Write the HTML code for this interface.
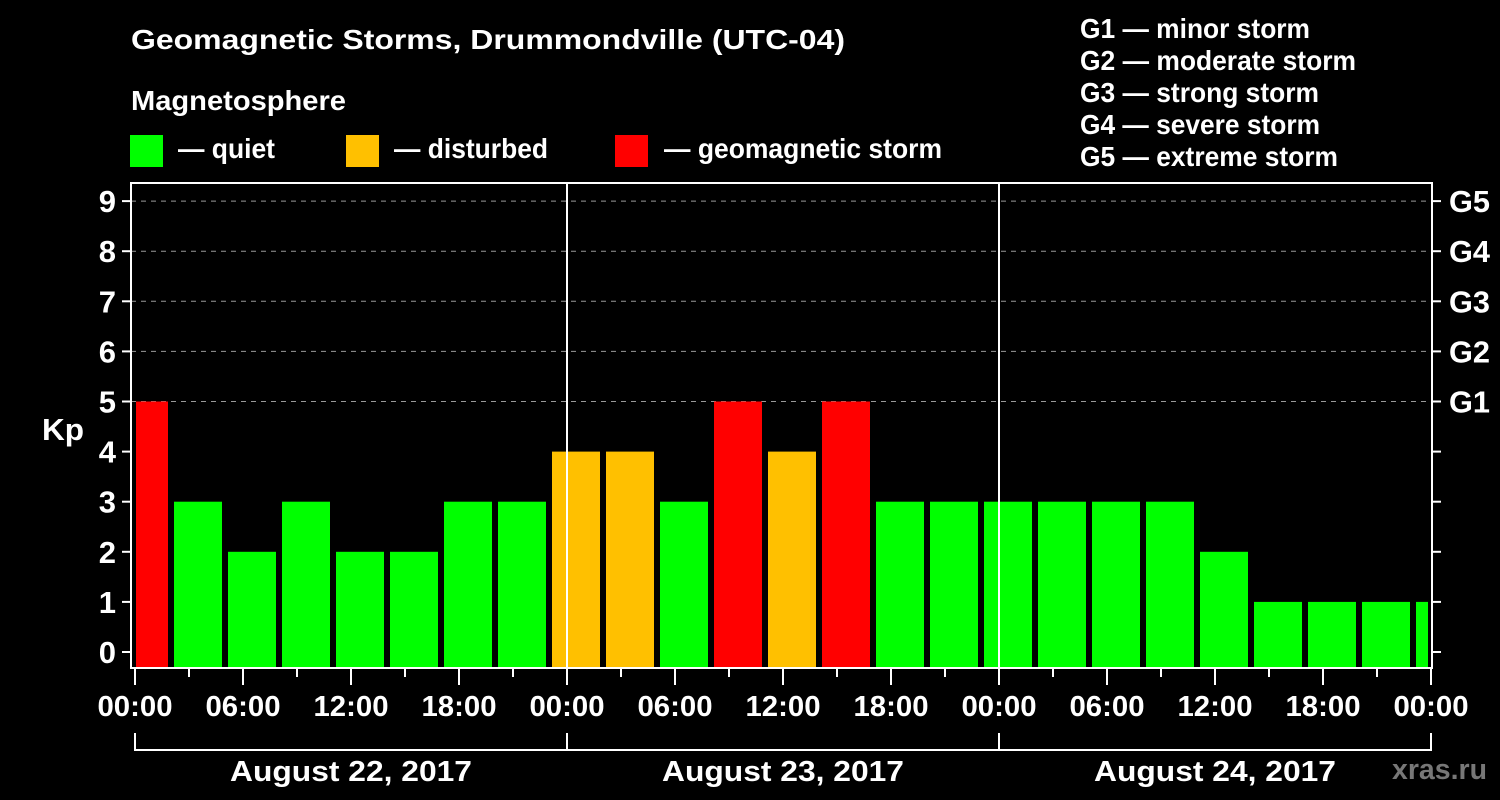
<!DOCTYPE html>
<html><head><meta charset="utf-8"><style>
html,body{margin:0;padding:0;background:#000;width:1500px;height:800px;overflow:hidden}
svg{display:block;font-family:"Liberation Sans",sans-serif;font-weight:bold}
</style></head><body>
<svg id="c" width="1500" height="800">
<rect width="1500" height="800" fill="#000"/>
<text x="131" y="49" font-size="28" fill="#fff" textLength="714" lengthAdjust="spacingAndGlyphs">Geomagnetic Storms, Drummondville (UTC-04)</text>
<text x="131" y="110" font-size="28" fill="#fff" textLength="215" lengthAdjust="spacingAndGlyphs">Magnetosphere</text>
<g><rect x="130" y="135" width="33" height="32" fill="#00ff00"/><text x="178" y="158" font-size="28" fill="#fff" textLength="97" lengthAdjust="spacingAndGlyphs">— quiet</text></g>
<g><rect x="346" y="135" width="33" height="32" fill="#ffc000"/><text x="394" y="158" font-size="28" fill="#fff" textLength="154" lengthAdjust="spacingAndGlyphs">— disturbed</text></g>
<g><rect x="615" y="135" width="33" height="32" fill="#ff0000"/><text x="664" y="158" font-size="28" fill="#fff" textLength="278" lengthAdjust="spacingAndGlyphs">— geomagnetic storm</text></g>
<g font-size="28" fill="#fff" lengthAdjust="spacingAndGlyphs">
<text x="1080" y="38" textLength="230" lengthAdjust="spacingAndGlyphs">G1 — minor storm</text>
<text x="1080" y="70" textLength="276" lengthAdjust="spacingAndGlyphs">G2 — moderate storm</text>
<text x="1080" y="102" textLength="239" lengthAdjust="spacingAndGlyphs">G3 — strong storm</text>
<text x="1080" y="134" textLength="240" lengthAdjust="spacingAndGlyphs">G4 — severe storm</text>
<text x="1080" y="166" textLength="258" lengthAdjust="spacingAndGlyphs">G5 — extreme storm</text>
</g>
<text x="42" y="440" font-size="31" fill="#fff" textLength="42" lengthAdjust="spacingAndGlyphs">Kp</text>
<text x="1392" y="779" font-size="29" fill="#777" textLength="95" lengthAdjust="spacingAndGlyphs">xras.ru</text>
<g id="plot"></g>
</svg>
<script>
const kpValues=[5,3,2,3,2,2,3,3,4,4,3,5,4,5,3,3,3,3,3,3,2,1,1,1,1];
const yTicks=[0,1,2,3,4,5,6,7,8,9];
const gLabels=["G1","G2","G3","G4","G5"];
const gLevels=[5,6,7,8,9];
const timeLabels=["00:00","06:00","12:00","18:00","00:00","06:00","12:00","18:00","00:00","06:00","12:00","18:00","00:00"];
const dayLabels=["August 22, 2017","August 23, 2017","August 24, 2017"];
const NS="http://www.w3.org/2000/svg";
const L=131,R=1432,T=183,B=668,X0=135;
const y=v=>652-v*50.1;
const xh=h=>X0+h*18;
const g=document.getElementById('plot');
function mk(t,a,p){const e=document.createElementNS(NS,t);for(const k in a)e.setAttribute(k,a[k]);(p||g).appendChild(e);return e;}
function col(v){return v>=5?"#ff0000":v>=4?"#ffc000":"#00ff00";}
gLevels.forEach(v=>{const e=mk('line',{x1:L,x2:R,y1:y(v),y2:y(v),stroke:"#999","stroke-dasharray":"5,5","stroke-width":1});

});
kpValues.forEach((v,i)=>{const end=xh(33/18)+54*i;let x1=Math.max(136,end-48),x2=Math.min(1428,end);
const r=mk('rect',{x:x1,y:y(v),width:x2-x1,height:B-1-y(v),fill:col(v)});

});
[1,2].forEach(d=>{const e=mk('line',{x1:xh(24*d),x2:xh(24*d),y1:T,y2:B,stroke:"#fff","stroke-width":2});

});
const f=mk('rect',{x:L,y:T,width:R-L,height:B-T,fill:"none",stroke:"#fff","stroke-width":2});


yTicks.forEach(v=>{mk('line',{x1:122,x2:L,y1:y(v),y2:y(v),stroke:"#fff","stroke-width":2});
mk('line',{x1:R,x2:1441,y1:y(v),y2:y(v),stroke:"#fff","stroke-width":2});
const t=mk('text',{x:116,y:y(v)+11,"font-size":31,fill:"#fff","text-anchor":"end"});t.textContent=v;

});
gLabels.forEach((s,i)=>{const t=mk('text',{x:1449,y:y(gLevels[i])+11,"font-size":31,fill:"#fff",textLength:41,lengthAdjust:"spacingAndGlyphs"});t.textContent=s;

});
for(let h=0;h<=72;h+=3){const major=h%6==0;mk('line',{x1:xh(h),x2:xh(h),y1:B,y2:major?685:677,stroke:"#fff","stroke-width":2});}
timeLabels.forEach((s,i)=>{const t=mk('text',{x:xh(i*6),y:716,"font-size":29,fill:"#fff","text-anchor":"middle",textLength:75,lengthAdjust:"spacingAndGlyphs"});t.textContent=s;

});
mk('polyline',{points:`${xh(0)},733 ${xh(0)},750 ${xh(72)},750 ${xh(72)},733`,fill:"none",stroke:"#fff","stroke-width":2});
[1,2].forEach(d=>mk('line',{x1:xh(24*d),x2:xh(24*d),y1:733,y2:750,stroke:"#fff","stroke-width":2}));
dayLabels.forEach((s,i)=>{const t=mk('text',{x:xh(24*i+12),y:781,"font-size":29,fill:"#fff","text-anchor":"middle",textLength:242,lengthAdjust:"spacingAndGlyphs"});t.textContent=s;

});
</script>
</body></html>
